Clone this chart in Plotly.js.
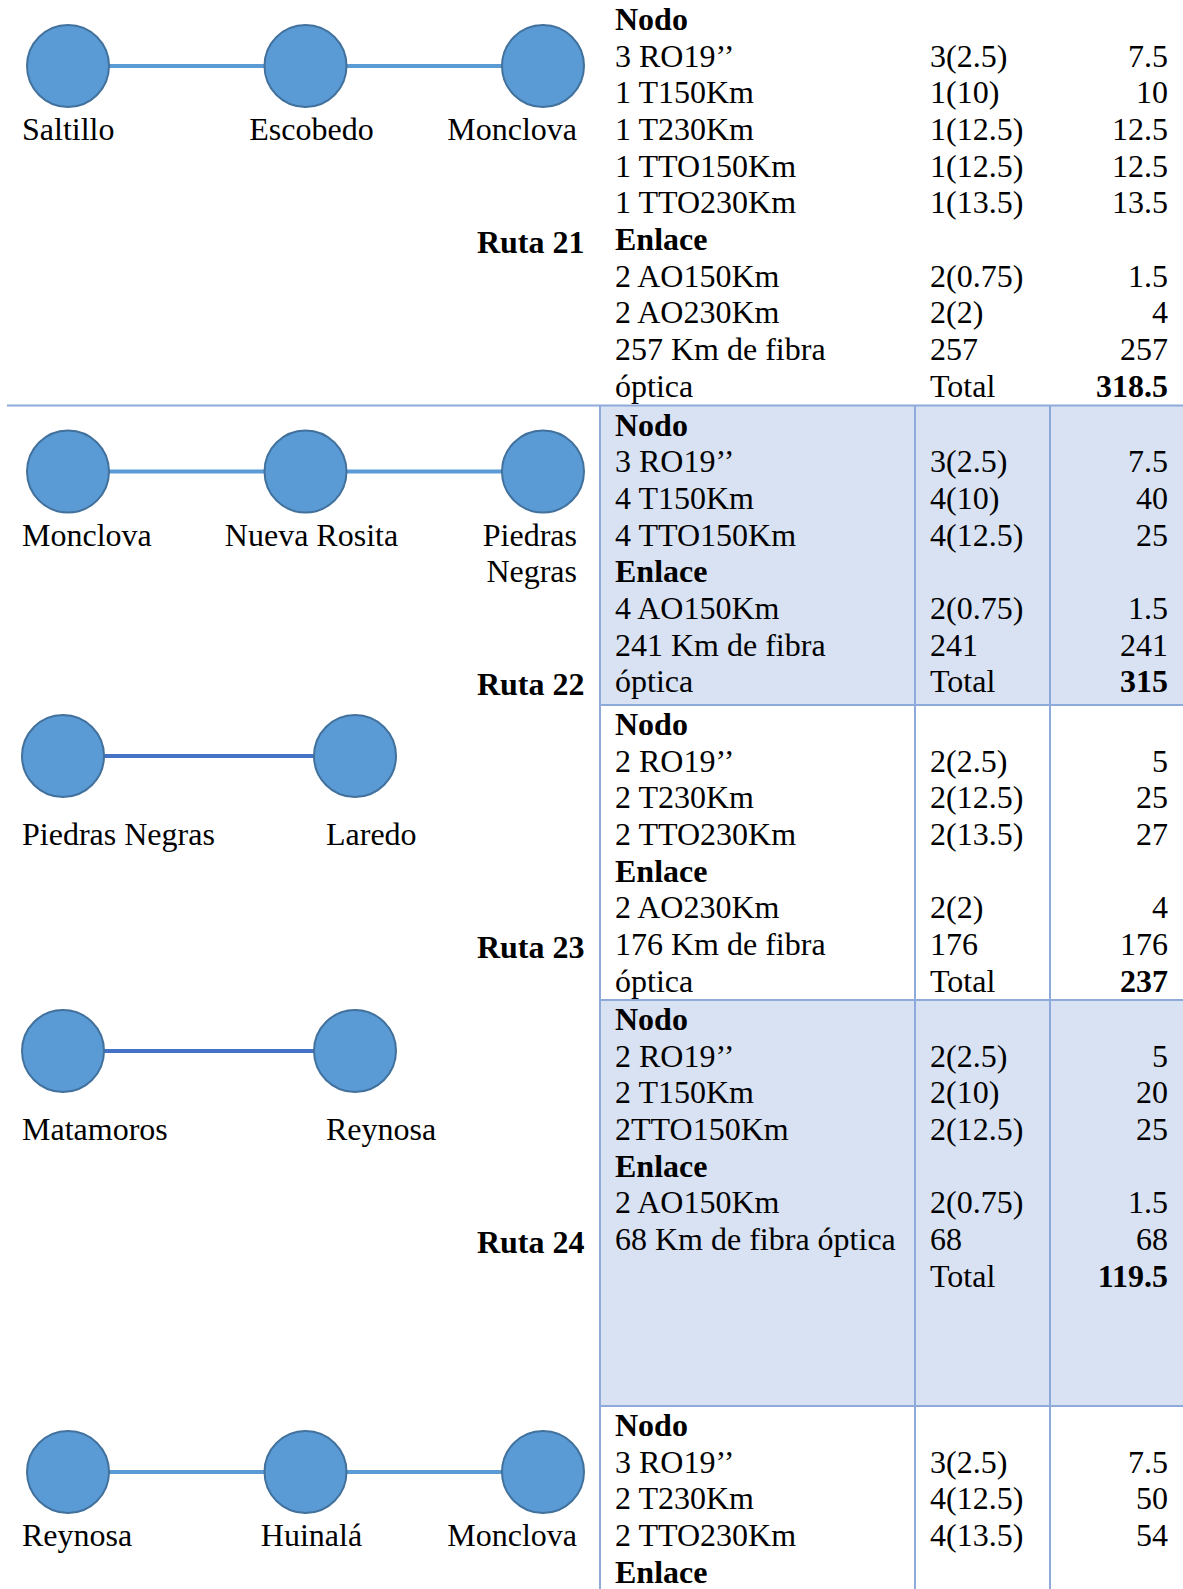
<!DOCTYPE html>
<html><head><meta charset="utf-8">
<script src="https://cdn.plot.ly/plotly-3.0.1.min.js"></script>
<style>html,body{margin:0;padding:0;background:#fff;}#chart{width:1183px;height:1589px;}</style>
</head><body><div id="chart"></div>
<script>
// ---------------- data ----------------
const routeNames = ['Ruta 21', 'Ruta 22', 'Ruta 23', 'Ruta 24', ''];

const cities21 = ['Saltillo', 'Escobedo', 'Monclova'];
const cities22 = ['Monclova', 'Nueva Rosita', 'Piedras<br>Negras'];
const cities23 = ['Piedras Negras', 'Laredo'];
const cities24 = ['Matamoros', 'Reynosa'];
const cities25 = ['Reynosa', 'Huinalá', 'Monclova'];

const items21 = ['Nodo', '3 RO19’’', '1 T150Km', '1 T230Km', '1 TTO150Km', '1 TTO230Km', 'Enlace', '2 AO150Km', '2 AO230Km', '257 Km de fibra', 'óptica'];
const formula21 = ['', '3(2.5)', '1(10)', '1(12.5)', '1(12.5)', '1(13.5)', '', '2(0.75)', '2(2)', '257', 'Total'];
const cost21 = [null, 7.5, 10, 12.5, 12.5, 13.5, null, 1.5, 4, 257, 318.5];

const items22 = ['Nodo', '3 RO19’’', '4 T150Km', '4 TTO150Km', 'Enlace', '4 AO150Km', '241 Km de fibra', 'óptica'];
const formula22 = ['', '3(2.5)', '4(10)', '4(12.5)', '', '2(0.75)', '241', 'Total'];
const cost22 = [null, 7.5, 40, 25, null, 1.5, 241, 315];

const items23 = ['Nodo', '2 RO19’’', '2 T230Km', '2 TTO230Km', 'Enlace', '2 AO230Km', '176 Km de fibra', 'óptica'];
const formula23 = ['', '2(2.5)', '2(12.5)', '2(13.5)', '', '2(2)', '176', 'Total'];
const cost23 = [null, 5, 25, 27, null, 4, 176, 237];

const items24 = ['Nodo', '2 RO19’’', '2 T150Km', '2TTO150Km', 'Enlace', '2 AO150Km', '68 Km de fibra óptica', ''];
const formula24 = ['', '2(2.5)', '2(10)', '2(12.5)', '', '2(0.75)', '68', 'Total'];
const cost24 = [null, 5, 20, 25, null, 1.5, 68, 119.5];

const items25 = ['Nodo', '3 RO19’’', '2 T230Km', '2 TTO230Km', 'Enlace'];
const formula25 = ['', '3(2.5)', '4(12.5)', '4(13.5)', ''];
const cost25 = [null, 7.5, 50, 54, null];

const headings = ['Nodo', 'Enlace'];

// ---------------- layout (positions / styles) ----------------
const L = {
  width: 1183, height: 1589,
  sectionH: [405.5, 299.5, 295, 406, 183],
  shaded: [false, true, false, true, false],
  rowH: 36.67, firstBase: 30,
  colItem: 615, colFormula: 930, colCost: 1168,
  gridL: 600, gridV: [915, 1050], ruleL: 7,
  fontSize: 32,
  nodeCy: {3: 66, 2: 51}, nodeX0: {3: 68, 2: 63}, nodeGap: {3: 237.5, 2: 292},
  labelBase: 140, labelLeft: 22, midLabelShift: 6, lastRight3: 577, lastLeft2: 326,
  rutaRight: 584.5, rutaRow: [6, 7, 6, 6, null], rutaDrop: 3,
  edgeColor: ['#5b9bd5', '#5b9bd5', '#4472c4', '#4472c4', '#5b9bd5'],
  nodeFill: '#5b9bd5', nodeLine: '#41719c', gridColor: '#8eaadb', shade: '#d9e2f3'
};
const SHIFT = 0.25 * L.fontSize; // baseline offset from text anchor point
const FONT = 'Liberation Serif, Times New Roman, serif';

const sections = [
  {name: routeNames[0], cities: cities21, items: items21, formula: formula21, cost: cost21},
  {name: routeNames[1], cities: cities22, items: items22, formula: formula22, cost: cost22},
  {name: routeNames[2], cities: cities23, items: items23, formula: formula23, cost: cost23},
  {name: routeNames[3], cities: cities24, items: items24, formula: formula24, cost: cost24},
  {name: routeNames[4], cities: cities25, items: items25, formula: formula25, cost: cost25}
];

const texts = {
  'middle right': {x: [], y: [], t: []},
  'middle left': {x: [], y: [], t: []},
  'middle center': {x: [], y: [], t: []}
};
function addText(pos, x, baseline, str) {
  texts[pos].x.push(x); texts[pos].y.push(baseline - SHIFT); texts[pos].t.push(str);
}

const shapes = [];
const traces = [];
const nodeX = [], nodeY = [];
let secTop = 0;
sections.forEach((s, si) => {
  const bottom = Math.min(secTop + L.sectionH[si], L.height);
  if (L.shaded[si]) {
    shapes.push({type: 'rect', xref: 'x', yref: 'y', x0: L.gridL, x1: L.width, y0: secTop, y1: bottom,
      fillcolor: L.shade, line: {width: 0}, layer: 'below'});
  }
  if (si > 0) {
    shapes.push({type: 'line', xref: 'x', yref: 'y', x0: si === 1 ? L.ruleL : L.gridL, x1: L.width, y0: secTop, y1: secTop,
      line: {color: L.gridColor, width: 2}});
  }
  // table
  s.items.forEach((it, ri) => {
    const b = secTop + L.firstBase + ri * L.rowH;
    if (it) addText('middle right', L.colItem, b, headings.includes(it) ? '<b>' + it + '</b>' : it);
    const f = s.formula[ri];
    if (f) addText('middle right', L.colFormula, b, f);
    const c = s.cost[ri];
    if (c !== null && c !== undefined) addText('middle left', L.colCost, b, f === 'Total' ? '<b>' + c + '</b>' : String(c));
  });
  // route label
  if (s.name && L.rutaRow[si] !== null) {
    addText('middle left', L.rutaRight, secTop + L.firstBase + L.rutaRow[si] * L.rowH + L.rutaDrop, '<b>' + s.name + '</b>');
  }
  // diagram
  const n = s.cities.length;
  const xs = s.cities.map((c, i) => L.nodeX0[n] + i * L.nodeGap[n]);
  const ys = s.cities.map(() => secTop + L.nodeCy[n]);
  traces.push({type: 'scatter', mode: 'lines', x: xs, y: ys, hoverinfo: 'skip', showlegend: false,
    line: {color: L.edgeColor[si], width: 4}, cliponaxis: false});
  xs.forEach((x, i) => { nodeX.push(x); nodeY.push(ys[i]); });
  s.cities.forEach((c, i) => {
    c.split('<br>').forEach((line, k) => {
      const b = secTop + L.labelBase + k * L.rowH;
      if (i === 0) addText('middle right', L.labelLeft, b, line);
      else if (n === 3 && i === 1) addText('middle center', xs[i] + L.midLabelShift, b, line);
      else if (n === 3) addText('middle left', L.lastRight3, b, line);
      else addText('middle right', L.lastLeft2, b, line);
    });
  });
  secTop = bottom;
});
// vertical grid lines
[L.gridL].concat(L.gridV).forEach(x => {
  shapes.push({type: 'line', xref: 'x', yref: 'y', x0: x, x1: x, y0: L.sectionH[0], y1: L.height,
    line: {color: L.gridColor, width: 2}});
});

traces.push({type: 'scatter', mode: 'markers', x: nodeX, y: nodeY, hoverinfo: 'skip', showlegend: false,
  marker: {size: 82, color: L.nodeFill, line: {color: L.nodeLine, width: 2}}, cliponaxis: false});

Object.keys(texts).forEach(pos => {
  traces.push({type: 'scatter', mode: 'text', x: texts[pos].x, y: texts[pos].y, text: texts[pos].t,
    textposition: pos, hoverinfo: 'skip', showlegend: false, cliponaxis: false,
    textfont: {family: FONT, size: L.fontSize, color: '#000'}});
});

const layout = {
  width: L.width, height: L.height,
  margin: {l: 0, r: 0, t: 0, b: 0, pad: 0},
  paper_bgcolor: '#fff', plot_bgcolor: '#fff',
  xaxis: {range: [0, L.width], visible: false, fixedrange: true},
  yaxis: {range: [L.height, 0], visible: false, fixedrange: true},
  shapes: shapes, showlegend: false, hovermode: false
};
Plotly.newPlot('chart', traces, layout, {staticPlot: true, displayModeBar: false});
</script></body></html>
